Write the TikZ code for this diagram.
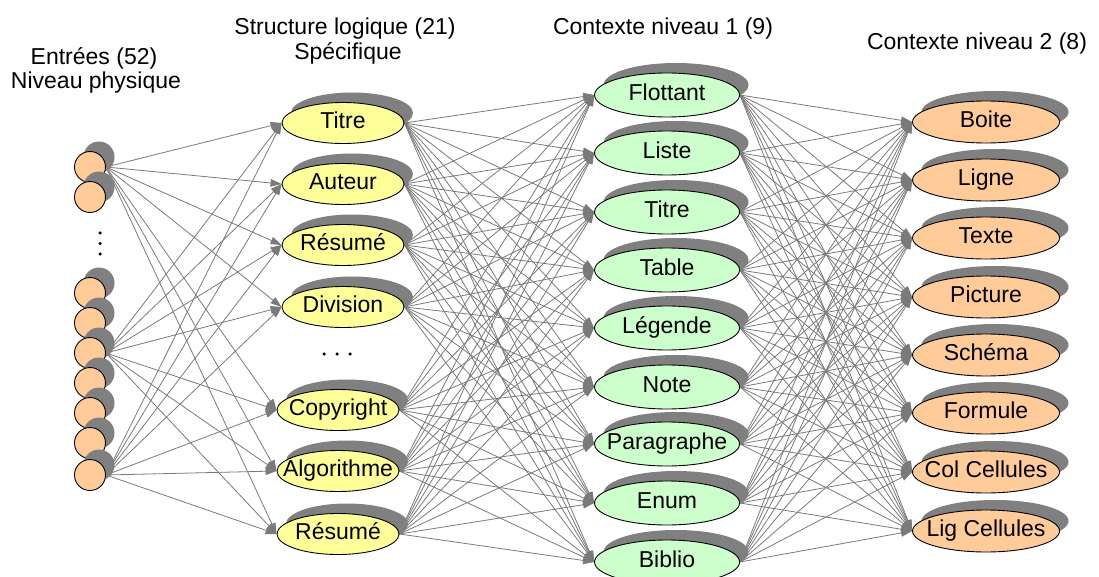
\documentclass[tikz,border=0pt]{standalone}
\usepackage{fontspec}
\setmainfont{Liberation Sans}
\usetikzlibrary{shapes.geometric,shadows,arrows.meta}
\pgfdeclarelayer{background}
\pgfsetlayers{background,main}
\definecolor{ylw}{HTML}{FFFF99}
\definecolor{grn}{HTML}{CCFFCC}
\definecolor{org}{HTML}{FFCC99}
\definecolor{shd}{HTML}{808080}
\definecolor{edg}{HTML}{7A7A7A}
\newcommand{\ctext}[1]{\makebox[0pt]{\rule[-5pt]{0pt}{20pt}#1}}
\tikzset{
  shd/.style={drop shadow={shadow xshift=9pt, shadow yshift=10pt, fill=shd, opacity=1}},
  base/.style={ellipse, draw=black, line width=0.9pt, inner sep=0pt, shd,
    font=\fontsize{23}{23}\selectfont},
  ynode/.style={base, fill=ylw, minimum width=122pt, minimum height=41pt},
  gnode/.style={base, fill=grn, minimum width=145pt, minimum height=44pt},
  onode/.style={base, fill=org, minimum width=147pt, minimum height=42pt},
  inp/.style={circle, draw=black, line width=0.9pt, fill=org, minimum size=31pt, inner sep=0pt, shd},
  link/.style={draw=edg, line width=0.8pt, -{Triangle[length=11pt,width=7.5pt]}},
  ttl/.style={anchor=base, font=\fontsize{23}{23}\selectfont, inner sep=0pt},
  dot/.style={circle, fill=black, inner sep=0pt, minimum size=3.5pt}
}
\begin{document}
\begin{tikzpicture}[x=1pt,y=-1pt]
\useasboundingbox (0,0) rectangle (1099,577);
% titles
\node[ttl] (t1a) at (94,65) {Entrées (52)};
\node[ttl] (t1b) at (96,89) {Niveau physique};
\node[ttl] (t2a) at (345,35) {Structure logique (21)};
\node[ttl] (t2b) at (348,60) {Spécifique};
\node[ttl] (t3) at (663,35) {Contexte niveau 1 (9)};
\node[ttl] (t4) at (977,50) {Contexte niveau 2 (8)};
% inputs
\foreach \i/\y in {1/167,2/197,3/293,4/323,5/353,6/383,7/413,8/443,9/475}
  \node[inp] (i\i) at (90,\y) {};
\node[dot] (vd1) at (100,233) {};
\node[dot] (vd2) at (100,243.5) {};
\node[dot] (vd3) at (100,254) {};
% yellow
\node[ynode] (y1) at (343,123) {\ctext{Titre}};
\node[ynode] (y2) at (343,184) {\ctext{Auteur}};
\node[ynode] (y3) at (343,245) {\ctext{Résumé}};
\node[ynode] (y4) at (343,307) {\ctext{Division}};
\node[ynode] (y5) at (338,410) {\ctext{Copyright}};
\node[ynode] (y6) at (338,471) {\ctext{Algorithme}};
\node[ynode] (y7) at (338,534) {\ctext{Résumé}};
\node[dot] (hd1) at (324,354) {};
\node[dot] (hd2) at (337,354) {};
\node[dot] (hd3) at (350,354) {};
% green
\node[gnode] (g1) at (667,95) {\ctext{Flottant}};
\node[gnode] (g2) at (667,153) {\ctext{Liste}};
\node[gnode] (g3) at (667,212) {\ctext{Titre}};
\node[gnode] (g4) at (667,270) {\ctext{Table}};
\node[gnode] (g5) at (667,328) {\ctext{Légende}};
\node[gnode] (g6) at (667,387) {\ctext{Note}};
\node[gnode] (g7) at (667,444) {\ctext{Paragraphe}};
\node[gnode] (g8) at (667,503) {\ctext{Enum}};
\node[gnode] (g9) at (667,562) {\ctext{Biblio}};
% orange
\node[onode] (o1) at (986,122) {\ctext{Boite}};
\node[onode] (o2) at (986,180) {\ctext{Ligne}};
\node[onode] (o3) at (986,238) {\ctext{Texte}};
\node[onode] (o4) at (986,297) {\ctext{Picture}};
\node[onode] (o5) at (986,355) {\ctext{Schéma}};
\node[onode] (o6) at (986,413) {\ctext{Formule}};
\node[onode] (o7) at (986,472) {\ctext{Col Cellules}};
\node[onode] (o8) at (986,531) {\ctext{Lig Cellules}};
% edges
\begin{pgfonlayer}{background}
\foreach \s in {1,5,9}
  \foreach \t in {1,...,7}
    \draw[link] (i\s.east) -- (y\t.west);
\foreach \s in {1,...,7}
  \foreach \t in {1,...,9}
    \draw[link] (y\s.east) -- (g\t.west);
\foreach \s in {1,...,9}
  \foreach \t in {1,...,8}
    \draw[link] (g\s.east) -- (o\t.west);
\end{pgfonlayer}
\end{tikzpicture}
\end{document}
